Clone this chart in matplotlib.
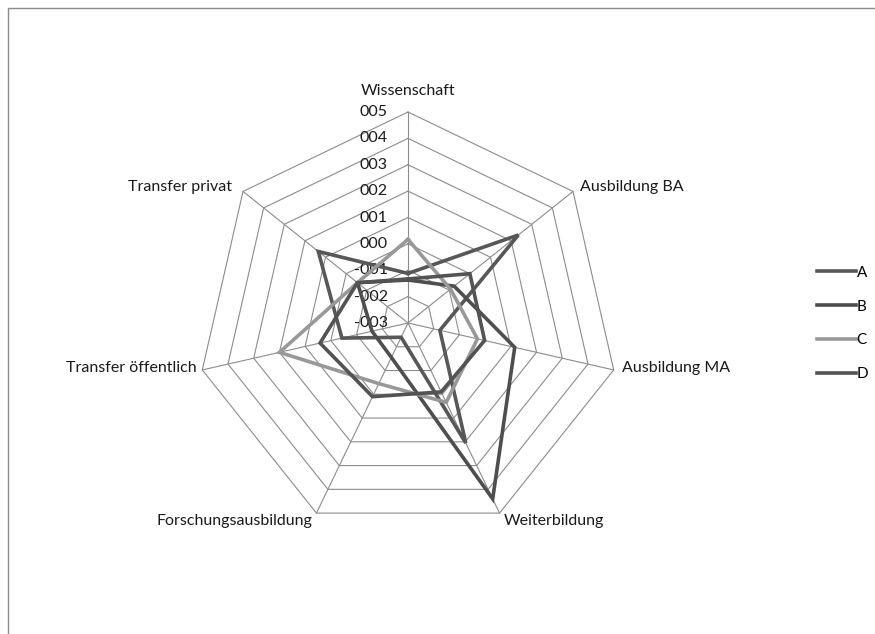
import numpy as np
import matplotlib.pyplot as plt

# ---------------------------------------------------
# data
# ---------------------------------------------------
categories = ['Wissenschaft', 'Ausbildung BA', 'Ausbildung MA', 'Weiterbildung',
              'Forschungsausbildung', 'Transfer öffentlich', 'Transfer privat']
series_names = ['A', 'B', 'C', 'D']
vals_a = [-1.12, 2.35, -1.76, 2.05, -2.40, -0.43, 1.35]
vals_b = [-1.37, -0.76, 1.15, 4.40, -1.55, -1.60, -0.55]
vals_c = [0.17, -0.94, -0.30, 0.34, -0.45, 2.00, -0.55]
vals_d = [-1.33, 0.00, -0.02, -0.10, 0.10, 0.42, -0.55]
tick_values = [-3, -2, -1, 0, 1, 2, 3, 4, 5]
tick_labels = ['-003', '-002', '-001', '000', '001', '002', '003', '004', '005']

colors = ['#575757', '#4e4e4e', '#989898', '#535353']

# ---------------------------------------------------
# layout (pixels)
# ---------------------------------------------------
W, H = 875, 634
cx, cy = 408, 311          # centre, measured from the bottom
R = 211                    # radius of the outer ring
rmin, rmax = -3, 5

plt.rcParams['font.family'] = ['Lato', 'DejaVu Sans']

fig = plt.figure(figsize=(W / 100, H / 100), dpi=100)
ax = fig.add_axes([0, 0, 1, 1])
k = (rmax - rmin) / R      # data units per pixel
ax.set_xlim(-cx * k, (W - cx) * k)
ax.set_ylim(-cy * k, (H - cy) * k)
ax.axis('off')

n = len(categories)
angles = np.pi / 2 - np.arange(n) * 2 * np.pi / n


def to_xy(values):
    r = np.asarray(values, dtype=float) - rmin
    x = r * np.cos(angles)
    y = r * np.sin(angles)
    return np.append(x, x[0]), np.append(y, y[0])


# grid rings and spokes
for t in tick_values[1:]:
    gx, gy = to_xy([t] * n)
    ax.plot(gx, gy, color='#8c8c8c', lw=0.8, zorder=1)
outer = rmax - rmin
for a in angles:
    ax.plot([0, outer * np.cos(a)], [0, outer * np.sin(a)], color='#8c8c8c', lw=0.8, zorder=1)

# tick labels along the first spoke
for t, lab in zip(tick_values, tick_labels):
    ax.text(-20 * k, t - rmin, lab, ha='right', va='center', fontsize=11.5, color='#1a1a1a')

# category labels: offset from the outer vertex in pixels
lab_off = [(0, 21, 'center'), (7, 4, 'left'), (8, 2, 'left'), (4, -8, 'left'),
           (-4, -8, 'right'), (-6, 2, 'right'), (-11, 4, 'right')]
for a, name, (dx, dy, ha) in zip(angles, categories, lab_off):
    x = outer * np.cos(a) + dx * k
    y = outer * np.sin(a) + dy * k
    ax.text(x, y, name, ha=ha, va='center', fontsize=11.5, color='#1a1a1a')

# series
for vals, col, name in zip([vals_a, vals_b, vals_c, vals_d], colors, series_names):
    sx, sy = to_xy(vals)
    ax.plot(sx, sy, color=col, lw=2.6, solid_joinstyle='miter', label=name, zorder=3)

leg = ax.legend(loc='upper left', bbox_to_anchor=(803 / W, 1 - 252 / H), frameon=False,
                handlelength=2.55, handletextpad=0.05, labelspacing=1.3, fontsize=11)

# chart border
ax.add_patch(plt.Rectangle((8 * k - cx * k, -cy * k - 10 * k), (W + 20) * k, (H - 8 + 10) * k,
                           fill=False, ec='#8c8c8c', lw=1, clip_on=False))

fig.savefig('out.png', dpi=100, facecolor='white')
